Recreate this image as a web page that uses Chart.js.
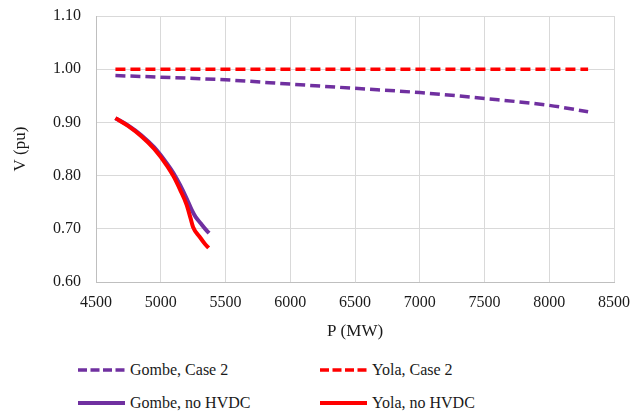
<!DOCTYPE html>
<html>
<head>
<meta charset="utf-8">
<script src="https://cdn.jsdelivr.net/npm/chart.js@4.4.1/dist/chart.umd.min.js"></script>
<style>
  html, body { margin: 0; padding: 0; background: #fff; }
  #wrap { position: relative; width: 630px; height: 416px; }
  #box { position: absolute; left: 0; top: 0; width: 630px; height: 345px; }
  #legend {
    position: absolute; left: 78px; top: 359px; width: 552px;
    display: grid; grid-template-columns: 242px 300px; row-gap: 11px;
    font-family: "Liberation Serif", "Times New Roman", Times, "Noto Serif", "DejaVu Serif", Tinos, serif;
    font-size: 16px; color: #1a1a1a;
  }
  #legend div { display: flex; align-items: center; height: 22px; white-space: nowrap; }
  #legend svg { margin-right: 5px; }
</style>
</head>
<body>
<div id="wrap">
  <div id="box"><canvas id="grafica"></canvas></div>
  <div id="legend"></div>
</div>
<script>
// datos
const pCase2      = [4650, 5000, 5500, 6000, 6500, 7000, 7500, 8000, 8300]
const gombeCase2  = [0.988, 0.985, 0.980, 0.972, 0.964, 0.956, 0.945, 0.932, 0.920]
const yolaCase2   = [1.000, 1.000, 1.000, 1.000, 1.000, 1.000, 1.000, 1.000, 1.000]

const pGombeNo    = [4650, 4750, 4850, 4950, 5050, 5100, 5150, 5200, 5240, 5270, 5310, 5350, 5373]
const gombeNo     = [0.908, 0.894, 0.876, 0.853, 0.822, 0.804, 0.782, 0.757, 0.735, 0.722, 0.710, 0.698, 0.692]
const pYolaNo     = [4650, 4750, 4850, 4950, 5050, 5100, 5150, 5200, 5230, 5250, 5300, 5340, 5370]
const yolaNo      = [0.908, 0.893, 0.874, 0.850, 0.818, 0.798, 0.773, 0.745, 0.720, 0.703, 0.685, 0.672, 0.664]

const xTicks = [4500, 5000, 5500, 6000, 6500, 7000, 7500, 8000, 8500]
const yTicks = [0.60, 0.70, 0.80, 0.90, 1.00, 1.10]

const purple = '#7030A0'
const red = '#FF0000'

const pts = (xs, ys) => xs.map((x, i) => ({x: x, y: ys[i]}))
const serif = '"Liberation Serif", "Times New Roman", Times, "Noto Serif", "DejaVu Serif", Tinos, serif'

var ctx = document.getElementById('grafica')
var grafica = new Chart(ctx, {
  type: 'line',
  data: {
    datasets: [
      {label: 'Gombe, Case 2', data: pts(pCase2, gombeCase2), borderColor: purple, borderDash: [10, 5], borderWidth: 3.5, order: 3},
      {label: 'Yola, Case 2', data: pts(pCase2, yolaCase2), borderColor: red, borderDash: [10, 5], borderWidth: 3.5, order: 2},
      {label: 'Gombe, no HVDC', data: pts(pGombeNo, gombeNo), borderColor: purple, borderWidth: 4, order: 1},
      {label: 'Yola, no HVDC', data: pts(pYolaNo, yolaNo), borderColor: red, borderWidth: 4, order: 0}
    ]
  },
  options: {
    responsive: true,
    maintainAspectRatio: false,
    animation: false,
    layout: {padding: {top: 16, right: 16, left: 0, bottom: 0}},
    elements: {
      point: {radius: 0},
      line: {cubicInterpolationMode: 'monotone', borderCapStyle: 'butt', borderJoinStyle: 'round'}
    },
    plugins: {legend: {display: false}, tooltip: {enabled: false}},
    scales: {
      x: {
        type: 'linear', min: 4500, max: 8500,
        afterBuildTicks: s => { s.ticks = xTicks.map(v => ({value: v})) },
        afterFit: s => { s.height = 63; s.paddingLeft = 0; s.paddingRight = 0 },
        grid: {color: '#D9D9D9', drawTicks: false, lineWidth: 1},
        border: {color: '#BFBFBF'},
        ticks: {padding: 11, color: '#1a1a1a', font: {family: serif, size: 16}, maxRotation: 0, callback: v => String(v)},
        title: {display: true, text: 'P (MW)', color: '#1a1a1a', font: {family: serif, size: 17}, padding: {top: 0, bottom: 3}}
      },
      y: {
        type: 'linear', min: 0.6, max: 1.1,
        afterBuildTicks: s => { s.ticks = yTicks.map(v => ({value: v})) },
        afterFit: s => { s.width = 96; s.paddingTop = 0; s.paddingBottom = 0 },
        grid: {color: '#D9D9D9', drawTicks: false, lineWidth: 1},
        border: {color: '#BFBFBF'},
        ticks: {padding: 15, color: '#1a1a1a', font: {family: serif, size: 16}, callback: v => v.toFixed(2)},
        title: {display: true, text: 'V (pu)', color: '#1a1a1a', font: {family: serif, size: 17}, padding: {top: 10, bottom: 0}}
      }
    }
  }
})

// leyenda en dos columnas, como en el original
const orden = [0, 1, 2, 3]
const leyenda = document.getElementById('legend')
orden.forEach(i => {
  const ds = grafica.data.datasets[i]
  const dash = ds.borderDash ? 'stroke-dasharray="9 3.5"' : ''
  const item = document.createElement('div')
  item.innerHTML = '<svg width="47" height="6"><line x1="0" y1="3" x2="47" y2="3" stroke="' + ds.borderColor +
    '" stroke-width="' + (ds.borderDash ? 3.5 : 4) + '" ' + dash + '/></svg><span>' + ds.label + '</span>'
  leyenda.appendChild(item)
})
</script>
</body>
</html>
